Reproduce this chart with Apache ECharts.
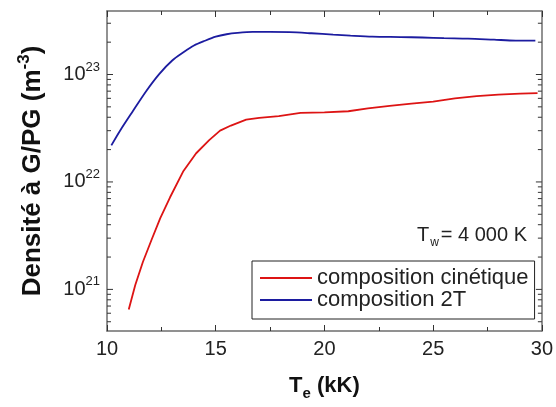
<!DOCTYPE html>
<html>
<head>
<meta charset="utf-8">
<script src="https://cdn.jsdelivr.net/npm/echarts@6/dist/echarts.min.js"></script>
<style>html,body{margin:0;padding:0;background:#fff}#c{width:556px;height:407px}</style>
</head>
<body>
<div id="c"></div>
<script>
// Data
var tempRed = [11.0, 11.3, 11.65, 12.05, 12.45, 12.9, 13.5, 14.1, 14.7, 15.2, 15.7, 16.4, 17.0, 17.9, 18.9, 20.0, 21.1, 22.0, 23.0, 24.0, 25.0, 26.0, 27.0, 28.0, 29.0, 29.8];
var densRed = [6.5e20, 1.1e21, 1.8e21, 2.9e21, 4.6e21, 7.2e21, 1.25e22, 1.85e22, 2.45e22, 3.0e22, 3.35e22, 3.8e22, 3.95e22, 4.1e22, 4.4e22, 4.45e22, 4.55e22, 4.85e22, 5.1e22, 5.35e22, 5.6e22, 6.0e22, 6.3e22, 6.5e22, 6.65e22, 6.72e22];
var tempBlue = [10.2, 10.6, 11.2, 11.8, 12.4, 13.0, 13.5, 14.0, 14.5, 15.0, 15.5, 16.0, 16.7, 17.5, 18.4, 19.4, 20.4, 21.2, 22.2, 23.5, 24.5, 25.5, 26.6, 27.8, 28.8, 29.7];
var densBlue = [2.19e22, 3.0e22, 4.6e22, 7.0e22, 1.01e23, 1.35e23, 1.6e23, 1.86e23, 2.06e23, 2.25e23, 2.37e23, 2.44e23, 2.49e23, 2.49e23, 2.48e23, 2.42e23, 2.35e23, 2.3e23, 2.25e23, 2.23e23, 2.21e23, 2.18e23, 2.16e23, 2.11e23, 2.07e23, 2.07e23];
var seriesNames = ['composition cinétique', 'composition 2T'];
var xMin = 10, xMax = 30, xStep = 5;
var yMin = 4.1e20, yMax = 3.9e23;

var FONT = 'Liberation Sans, Arial, sans-serif';

function pairs(xs, ys) { return xs.map(function (x, i) { return [x, ys[i]]; }); }

// log tick marks (2..9 x 10^n minor, 10^n major) within range
var yTickData = [];
for (var e = 20; e <= 23; e++) {
  for (var k = 1; k <= 9; k++) {
    var v = k * Math.pow(10, e);
    if (v >= yMin && v <= yMax) yTickData.push([xMin, v, k === 1 ? 1 : 0]);
  }
}

var axisGray = '#6e6e6e';
var chart = echarts.init(document.getElementById('c'), null, { renderer: 'canvas' });
chart.setOption({
  animation: false,
  backgroundColor: '#fff',
  grid: { left: 107, right: 12, top: 11, bottom: 76, containLabel: false },
  xAxis: [{
    type: 'value', min: xMin, max: xMax, interval: xStep, position: 'bottom',
    axisLine: { show: true, lineStyle: { color: axisGray, width: 1.5 } },
    axisTick: { show: true, inside: true, length: 6, lineStyle: { color: '#333', width: 1 } },
    minorTick: { show: true, splitNumber: 2, length: 4, lineStyle: { color: '#333', width: 1 } },
    splitLine: { show: false },
    axisLabel: { fontFamily: FONT, fontSize: 20, color: '#222', margin: 8 },
    name: '{t|T}{e|e}{t| (kK)}', nameLocation: 'middle', nameGap: 40,
    nameTextStyle: {
      rich: {
        t: { fontFamily: FONT, fontSize: 22, fontWeight: 'bold', color: '#111', lineHeight: 30 },
        e: { fontFamily: FONT, fontSize: 15, fontWeight: 'bold', color: '#111', verticalAlign: 'bottom', lineHeight: 12 }
      }
    }
  }, {
    type: 'value', min: xMin, max: xMax, interval: xStep, position: 'top',
    axisLine: { show: true, lineStyle: { color: axisGray, width: 1.5 } },
    axisTick: { show: true, inside: true, length: 6, lineStyle: { color: '#333', width: 1 } },
    minorTick: { show: true, splitNumber: 2, length: 4, lineStyle: { color: '#333', width: 1 } },
    splitLine: { show: false }, axisLabel: { show: false }
  }],
  yAxis: [{
    type: 'log', min: yMin, max: yMax, position: 'left',
    axisLine: { show: true, lineStyle: { color: axisGray, width: 1.5 } },
    axisTick: { show: false }, splitLine: { show: false }, minorTick: { show: false },
    axisLabel: {
      margin: 7, showMinLabel: false, showMaxLabel: false,
      formatter: function (val) {
        var ex = Math.log10(val);
        if (Math.abs(ex - Math.round(ex)) > 1e-6) return '';
        return '{b|10}{s|' + Math.round(ex) + '}';
      },
      rich: {
        b: { fontFamily: FONT, fontSize: 20, color: '#222', lineHeight: 28 },
        s: { fontFamily: FONT, fontSize: 13, color: '#222', verticalAlign: 'top', lineHeight: 14 }
      }
    },
    name: '{t|Densité à G/PG (m}{s|-3}{t|)}', nameLocation: 'middle', nameRotate: 90, nameGap: 57,
    nameTextStyle: {
      rich: {
        t: { fontFamily: FONT, fontSize: 26, fontWeight: 'bold', color: '#111', lineHeight: 34 },
        s: { fontFamily: FONT, fontSize: 17, fontWeight: 'bold', color: '#111', verticalAlign: 'top', lineHeight: 16 }
      }
    }
  }, {
    type: 'log', min: yMin, max: yMax, position: 'right',
    axisLine: { show: true, lineStyle: { color: axisGray, width: 1.5 } },
    axisTick: { show: false }, splitLine: { show: false }, axisLabel: { show: false }
  }],
  legend: {
    data: seriesNames, orient: 'vertical', left: 252, top: 261,
    padding: [6, 6, 8, 8], itemGap: 0, itemWidth: 52, itemHeight: 2, icon: 'rect',
    borderColor: '#222', borderWidth: 1, backgroundColor: '#fff',
    textStyle: { fontFamily: FONT, fontSize: 22, color: '#222', lineHeight: 20 }
  },
  graphic: [{
    type: 'text', right: 29, top: 225,
    style: {
      text: '{t|T}{w|w}{t|= 4 000 K}',
      rich: {
        t: { fontFamily: FONT, fontSize: 20, fill: '#222', lineHeight: 28 },
        w: { fontFamily: FONT, fontSize: 12, fill: '#222', verticalAlign: 'bottom', lineHeight: 10, padding: [0, 2, 0, 1] }
      }
    }
  }],
  series: [{
    name: seriesNames[0], type: 'line', data: pairs(tempRed, densRed),
    xAxisIndex: 0, yAxisIndex: 0, showSymbol: false, smooth: false,
    lineStyle: { color: '#dd1414', width: 1.8 }, itemStyle: { color: '#dd1414' }
  }, {
    name: seriesNames[1], type: 'line', data: pairs(tempBlue, densBlue),
    xAxisIndex: 0, yAxisIndex: 0, showSymbol: false, smooth: 0.3,
    lineStyle: { color: '#1c1ca0', width: 1.8 }, itemStyle: { color: '#1c1ca0' }
  }, {
    type: 'custom', xAxisIndex: 0, yAxisIndex: 0, silent: true, clip: false, z: 5,
    encode: { x: 0, y: 1 },
    data: yTickData,
    renderItem: function (params, api) {
      var v = api.value(1), major = api.value(2);
      var pL = api.coord([xMin, v]);
      var pR = api.coord([xMax, v]);
      var len = major ? 6 : 4;
      return {
        type: 'group', children: [
          { type: 'line', shape: { x1: pL[0], y1: pL[1], x2: pL[0] + len, y2: pL[1] }, style: { stroke: '#333', lineWidth: 1 } },
          { type: 'line', shape: { x1: pR[0], y1: pR[1], x2: pR[0] - len, y2: pR[1] }, style: { stroke: '#333', lineWidth: 1 } }
        ]
      };
    }
  }]
});
</script>
</body>
</html>
